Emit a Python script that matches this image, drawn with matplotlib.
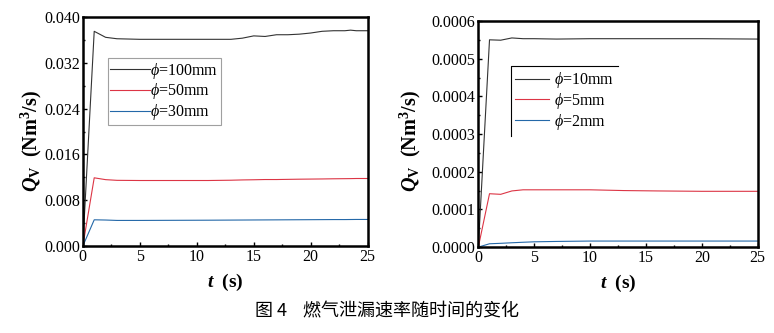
import numpy as np
import matplotlib
matplotlib.use("Agg")
import matplotlib.pyplot as plt
from matplotlib.lines import Line2D
from matplotlib.ticker import MultipleLocator, FormatStrFormatter

plt.rcParams['font.family'] = ['Liberation Serif', 'Noto Sans CJK SC']
plt.rcParams['mathtext.fontset'] = 'custom'
plt.rcParams['mathtext.rm'] = 'Liberation Serif'
plt.rcParams['mathtext.it'] = 'Liberation Serif:italic'
plt.rcParams['mathtext.bf'] = 'Liberation Serif:bold'
plt.rcParams['mathtext.bfit'] = 'Liberation Serif:bold:italic'

# left panel: large holes
t_left = [0, 1, 2, 3, 5, 8, 11, 13, 14, 15, 16, 17, 18, 19, 20, 21, 22, 23, 23.5, 24, 25]
q_100 = [0, 0.0375, 0.03645, 0.0362, 0.0361, 0.0361, 0.0361, 0.0361, 0.0363, 0.0367,
         0.0366, 0.0369, 0.0369, 0.0370, 0.0372, 0.0375, 0.0376, 0.0376, 0.0377, 0.0376, 0.0376]
q_50 = [0, 0.01192, 0.01160, 0.01148, 0.01145, 0.01145, 0.01145, 0.01150, 0.01155, 0.01158,
        0.01162, 0.01162, 0.01165, 0.01168, 0.01170, 0.01172, 0.01175, 0.01177, 0.01178, 0.01180, 0.01180]
q_30 = [0, 0.00459, 0.00455, 0.00448, 0.00448, 0.00450, 0.00452, 0.00454, 0.00455, 0.00456,
        0.00457, 0.00458, 0.00459, 0.00460, 0.00461, 0.00462, 0.00463, 0.00463, 0.00464, 0.00465, 0.00465]

# right panel: small holes
t_right = [0, 1, 2, 3, 4, 5, 7, 10, 13, 16, 20, 25]
q_10 = [0, 0.000550, 0.000549, 0.000555, 0.000553, 0.000553, 0.000552, 0.000553, 0.000553, 0.000553, 0.000553, 0.000552]
q_5 = [0, 0.0001416, 0.000140, 0.000149, 0.000152, 0.000152, 0.000152, 0.000152, 0.000150, 0.000149, 0.000148, 0.000148]
q_2 = [0, 0.0000088, 0.0000100, 0.0000115, 0.0000128, 0.0000140, 0.0000150, 0.0000160, 0.0000160, 0.0000160, 0.0000160, 0.0000160]

labels_left = [r'$\phi$=100mm', r'$\phi$=50mm', r'$\phi$=30mm']
labels_right = [r'$\phi$=10mm', r'$\phi$=5mm', r'$\phi$=2mm']
colors = ['#333333', '#dc3545', '#2468a8']

fig = plt.figure(figsize=(7.74, 3.33), dpi=100)
ax1 = fig.add_axes([0.107, 0.261, 0.368, 0.688])
ax2 = fig.add_axes([0.618, 0.258, 0.361, 0.679])


def style(ax, ymax, ystep, fmt, label_x, label_y):
    ax.set_xlim(0, 25)
    ax.set_ylim(0, ymax)
    ax.xaxis.set_major_locator(MultipleLocator(5))
    ax.xaxis.set_minor_locator(MultipleLocator(2.5))
    ax.yaxis.set_major_locator(MultipleLocator(ystep))
    ax.yaxis.set_minor_locator(MultipleLocator(ystep / 2))
    ax.yaxis.set_major_formatter(FormatStrFormatter(fmt))
    ax.tick_params(which='both', direction='in', labelsize=11.5, pad=2)
    ax.tick_params(which='major', length=3, width=1)
    ax.tick_params(which='minor', length=1.5, width=1)
    for s in ax.spines.values():
        s.set_linewidth(1.8)
    ax.set_xlabel(r'$\mathbfit{t}\ \ \mathbf{(s)}$', fontsize=14, labelpad=5)
    ax.set_ylabel(r'$\mathbfit{Q}_{\mathbf{V}}\ \ \mathbf{(Nm^{3}/s)}$', fontsize=14.5)
    ax.yaxis.set_label_coords(label_x, label_y)


for q, lab, c in zip([q_100, q_50, q_30], labels_left, colors):
    ax1.plot(t_left, q, color=c, lw=0.8, label=lab)
style(ax1, 0.040, 0.008, '%.3f', -0.135, 0.46)
leg1 = ax1.legend(loc='upper left', bbox_to_anchor=(0.088, 0.82), fontsize=11.5, handlelength=2.5,
                  handletextpad=0.0, labelspacing=0.05, borderpad=0.15, borderaxespad=0,
                  fancybox=False, frameon=True, edgecolor='#888888')
leg1.get_frame().set_linewidth(0.8)

for q, lab, c in zip([q_10, q_5, q_2], labels_right, colors):
    ax2.plot(t_right, q, color=c, lw=0.8, label=lab)
style(ax2, 0.0006, 0.0001, '%.4f', -0.197, 0.47)
leg2 = ax2.legend(loc='upper left', bbox_to_anchor=(0.118, 0.80), fontsize=11.5, handlelength=2.1,
                  handletextpad=0.3, labelspacing=0.05, borderpad=0.25, borderaxespad=0,
                  frameon=False)

# right legend only shows its top and left border
fig.canvas.draw()
bb = leg2.get_window_extent().transformed(fig.transFigure.inverted())
fig.add_artist(Line2D([bb.x0, bb.x0, bb.x1], [bb.y0, bb.y1, bb.y1], color='black', lw=0.8,
                      transform=fig.transFigure))

fig.text(0.5, 0.065, '图 4    燃气泄漏速率随时间的变化', ha='center', va='center', fontsize=13,
         family=['Noto Sans CJK SC', 'DejaVu Sans'])

fig.savefig('out.png', dpi=100)
